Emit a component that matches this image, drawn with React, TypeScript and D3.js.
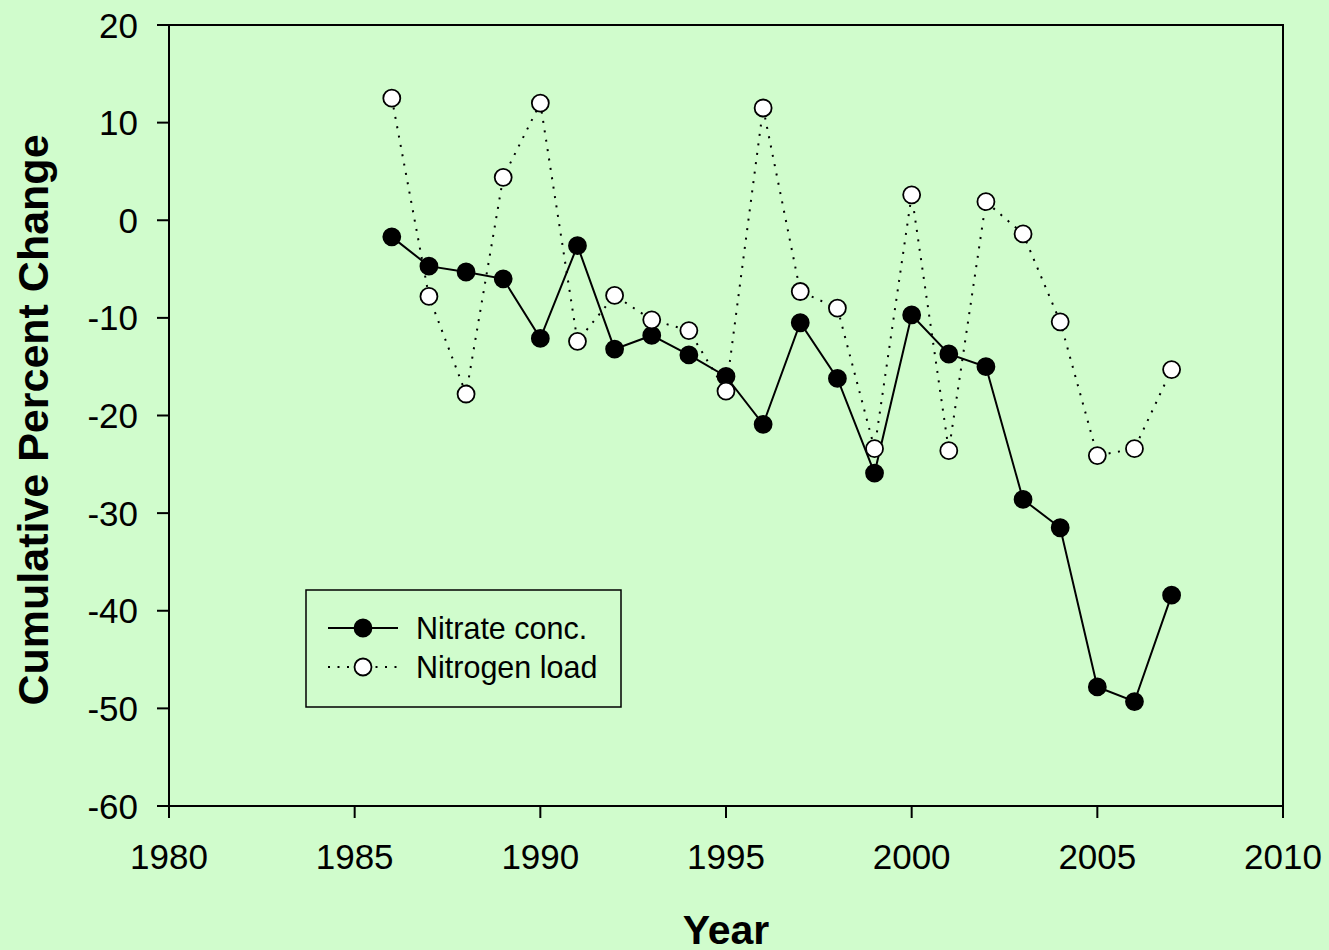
import React from "react";
import * as d3 from "d3";

const years = [1986, 1987, 1988, 1989, 1990, 1991, 1992, 1993, 1994, 1995, 1996, 1997, 1998, 1999, 2000, 2001, 2002, 2003, 2004, 2005, 2006, 2007];
const nitrateConc = [-1.7, -4.7, -5.3, -6.0, -12.1, -2.6, -13.2, -11.8, -13.8, -16.0, -20.9, -10.5, -16.2, -25.9, -9.7, -13.7, -15.0, -28.6, -31.5, -47.8, -49.3, -38.4];
const nitrogenLoad = [12.5, -7.8, -17.8, 4.4, 12.0, -12.4, -7.7, -10.2, -11.3, -17.5, 11.5, -7.3, -9.0, -23.4, 2.6, -23.6, 1.9, -1.4, -10.4, -24.1, -23.4, -15.3];
const xTicks = [1980, 1985, 1990, 1995, 2000, 2005, 2010];
const yTicks = [20, 10, 0, -10, -20, -30, -40, -50, -60];

const W = 1329, H = 950;
const L = 169, R = 1283, T = 25, B = 806;
const FONT = "Arial, 'Liberation Sans', Helvetica, sans-serif";

export default function App() {
  const x = d3.scaleLinear().domain([1980, 2010]).range([L, R]);
  const y = d3.scaleLinear().domain([-60, 20]).range([B, T]);
  const line = d3.line<[number, number]>().x(d => x(d[0])).y(d => y(d[1]));
  const nData = years.map((yr, i) => [yr, nitrateConc[i]] as [number, number]);
  const lData = years.map((yr, i) => [yr, nitrogenLoad[i]] as [number, number]);
  const r = 8.5;
  const dots = "2,7.5";
  return (
    <svg width={W} height={H} style={{ position: "absolute", left: 0, top: 0, display: "block" }} fontFamily={FONT}>
      <rect x={0} y={0} width={W} height={H} fill="#d0fccc" />
      <rect x={L} y={T} width={R - L} height={B - T} fill="none" stroke="#000" strokeWidth={2} />
      {yTicks.map(t => (
        <g key={"y" + t}>
          <line x1={L - 12} x2={L} y1={y(t)} y2={y(t)} stroke="#000" strokeWidth={2} />
          <text x={L - 31} y={y(t)} dy="0.36em" textAnchor="end" fontSize={35}>{t}</text>
        </g>
      ))}
      {xTicks.map(t => (
        <g key={"x" + t}>
          <line x1={x(t)} x2={x(t)} y1={B} y2={B + 12} stroke="#000" strokeWidth={2} />
          <text x={x(t)} y={869} textAnchor="middle" fontSize={35}>{t}</text>
        </g>
      ))}
      <text x={726} y={944} textAnchor="middle" fontSize={41} fontWeight="bold">Year</text>
      <text transform={`translate(48, 420) rotate(-90)`} textAnchor="middle" fontSize={43} fontWeight="bold">Cumulative Percent Change</text>

      <path d={line(lData) || ""} fill="none" stroke="#000" strokeWidth={2} strokeDasharray={dots} />
      <path d={line(nData) || ""} fill="none" stroke="#000" strokeWidth={2} />
      {nData.map((d, i) => (
        <circle key={"n" + i} cx={x(d[0])} cy={y(d[1])} r={r} fill="#000" stroke="#000" strokeWidth={1.8} />
      ))}
      {lData.map((d, i) => (
        <circle key={"l" + i} cx={x(d[0])} cy={y(d[1])} r={r} fill="#fff" stroke="#000" strokeWidth={1.8} />
      ))}

      <rect x={306} y={590} width={315} height={117} fill="none" stroke="#000" strokeWidth={1.5} />
      <line x1={328} x2={398} y1={628} y2={628} stroke="#000" strokeWidth={2} />
      <circle cx={363} cy={628} r={r} fill="#000" stroke="#000" strokeWidth={1.8} />
      <line x1={328} x2={398} y1={667} y2={667} stroke="#000" strokeWidth={2} strokeDasharray={dots} />
      <circle cx={363} cy={667} r={r} fill="#fff" stroke="#000" strokeWidth={1.8} />
      <text x={416} y={639} fontSize={30.5}>Nitrate conc.</text>
      <text x={416} y={678} fontSize={30.5}>Nitrogen load</text>
    </svg>
  );
}
